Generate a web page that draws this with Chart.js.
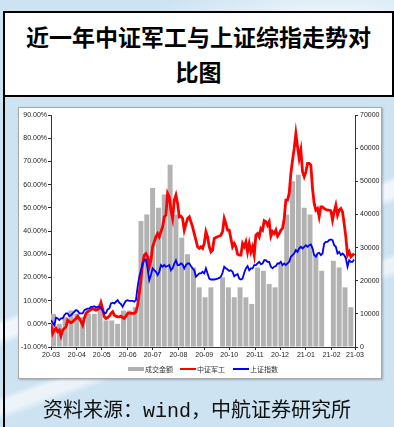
<!DOCTYPE html>
<html>
<head>
<meta charset="utf-8">
<script src="https://cdn.jsdelivr.net/npm/chart.js@4/dist/chart.umd.min.js"></script>
<style>
  html, body { margin: 0; padding: 0; }
  body {
    width: 394px; height: 427px; position: relative; overflow: hidden;
    background:
      radial-gradient(ellipse 260px 60px at 330px 20px, rgba(255,255,255,0.75), rgba(255,255,255,0) 70%),
      linear-gradient(160deg, rgba(255,255,255,0) 0 300px, rgba(255,255,255,0.7) 306px 318px, rgba(255,255,255,0) 326px 372px, rgba(255,255,255,0.6) 378px 388px, rgba(255,255,255,0) 396px),
      #cde3f2;
    font-family: "Noto Sans CJK SC", sans-serif;
  }
  .title {
    position: absolute; left: 3px; top: 11px; width: 391px; height: 86px;
    box-sizing: border-box; border: 2px solid #000; background: #fff;
    text-align: center; font-weight: 700; font-size: 23px; line-height: 35px;
    padding-top: 6px; color: #000;
  }
  .leftline { position: absolute; left: 3px; top: 97px; width: 2px; height: 330px; background: #000; }
  .chartbox {
    position: absolute; left: 18px; top: 107px; width: 364px; height: 272px;
    box-sizing: border-box; border: 1px solid #a8a8a8; background: #fff;
    box-shadow: 1px 1px 2px rgba(0,0,0,0.25);
  }
  .chartbox canvas { position: absolute; left: -1px; top: -1px; }
  .legend { position: absolute; top: 256px; left: 0; width: 364px; height: 10px; font-size: 7px; color: #333; }
  .legend span { position: absolute; top: 0; line-height: 10px; white-space: nowrap; }
  .legend i { position: absolute; display: block; }
  .source {
    position: absolute; left: 0; top: 394px; width: 394px; text-align: center;
    font-family: "Liberation Mono", "Noto Sans CJK SC", monospace; font-size: 20px; color: #111;
  }
</style>
</head>
<body>
<div class="title">近一年中证军工与上证综指走势对<br>比图</div>
<div class="leftline"></div>
<div class="chartbox">
  <canvas id="trendChart" width="364" height="272"></canvas>
  <div class="legend">
    <i style="left:109px;top:3px;width:16px;height:4px;background:#b0b0b0"></i><span style="left:126px">成交金额</span>
    <i style="left:161px;top:4px;width:16px;height:2px;background:#ff0000"></i><span style="left:178px">中证军工</span>
    <i style="left:214px;top:4px;width:16px;height:2px;background:#0000ff"></i><span style="left:231px">上证指数</span>
  </div>
</div>
<div class="source">资料来源：wind，中航证券研究所</div>

<script>
    // Month tick labels (x axis runs 2020-03-01 .. 2021-03-01, in days)
    const monthLabels = ['20-03', '20-04', '20-05', '20-06', '20-07', '20-08', '20-09',
        '20-10', '20-11', '20-12', '21-01', '21-02', '21-03'];

    // Line samples, one every 2 calendar days from 2020-03-01 (cumulative change, %)
    const lineStepDays = 2;
    const junGong = [
        -0.1, -4.2, -2.7, -2.0, -3.4, -2.7, -5.2, -2.7, -2.0, -1.3,
        1.6, 0.9, 0.4, 0.9, 1.6, 2.3, 3.3, 2.3, 0.9, -0.6,
        2.3, 4.5, 5.2, 5.6, 6.2, 6.5, 6.2, 5.9, 6.2, 6.6,
        9.1, 6.6, 3.0, 2.3, 2.7, 3.3, 4.5, 5.2, 3.7, 3.3,
        3.0, 3.0, 3.3, 2.7, 2.3, 3.3, 4.5, 4.7, 4.5, 4.5,
        4.5, 5.2, 8.0, 13.1, 18.8, 26.0, 29.6, 30.3, 28.9, 24.6,
        27.4, 33.2, 35.3, 37.5, 38.9, 37.5, 39.7, 41.8, 46.1, 46.8,
        56.2, 54.7, 49.0, 45.4, 53.3, 55.5, 51.9, 46.1, 46.4, 45.4,
        40.4, 43.0, 45.4, 46.1, 44.0, 41.8, 38.9, 36.1, 33.2, 32.5,
        33.2, 32.5, 34.6, 39.7, 37.5, 33.2, 31.0, 31.8, 36.8, 37.2,
        37.5, 37.8, 38.2, 39.7, 45.4, 43.2, 40.4, 40.4, 36.8, 33.2,
        34.6, 33.2, 30.0, 29.6, 29.6, 34.6, 33.2, 35.3, 31.0, 34.6,
        31.0, 33.2, 29.6, 38.2, 38.9, 37.5, 41.1, 40.4, 44.4, 44.0,
        42.5, 44.0, 37.8, 39.7, 38.9, 40.4, 37.8, 38.9, 40.4, 41.1,
        45.4, 53.3, 53.3, 56.2, 64.8, 70.5, 75.6, 82.0, 76.3, 71.3,
        74.9, 65.5, 63.4, 65.5, 69.1, 69.1, 68.4, 58.3, 51.9, 49.0,
        49.7, 46.1, 50.4, 50.4, 49.7, 49.3, 49.0, 49.0, 48.7, 44.7,
        48.3, 51.1, 46.8, 49.0, 49.7, 48.3, 43.2, 37.5, 29.6, 31.0,
        28.9, 29.6, 30.3
    ];
    const shangZheng = [
        1.6, 0.4, -0.6, 2.7, 2.3, 1.6, 2.3, 2.3, 3.7, 4.5,
        4.5, 3.3, 3.7, 4.5, 5.2, 5.9, 5.6, 4.5, 4.5, 4.5,
        5.9, 6.2, 6.5, 6.6, 7.3, 7.3, 7.6, 7.0, 7.3, 7.3,
        7.0, 5.6, 4.5, 4.7, 6.2, 6.6, 8.8, 9.1, 8.8, 9.5,
        10.2, 9.1, 8.5, 7.3, 8.8, 9.9, 10.2, 9.9, 9.9, 9.9,
        9.5, 10.2, 15.9, 20.3, 23.1, 25.7, 27.4, 27.7, 23.9, 18.8,
        21.0, 23.9, 23.1, 22.4, 21.0, 22.4, 25.3, 24.6, 25.3, 24.6,
        24.9, 25.3, 23.1, 23.9, 26.0, 27.4, 25.3, 25.3, 26.0, 25.6,
        23.9, 25.3, 26.0, 26.0, 24.9, 23.9, 23.1, 20.3, 21.0, 21.7,
        21.7, 22.4, 21.7, 23.9, 21.7, 19.5, 19.1, 19.1, 19.1, 19.3,
        19.5, 19.8, 20.3, 22.0, 24.6, 23.9, 23.4, 22.8, 23.1, 22.4,
        20.5, 21.0, 21.4, 19.5, 19.1, 19.5, 22.0, 23.9, 24.9, 23.1,
        23.9, 23.9, 25.3, 25.3, 26.0, 26.7, 25.7, 26.0, 27.4, 27.4,
        26.7, 26.7, 24.6, 23.9, 24.6, 24.9, 26.0, 26.0, 26.7, 25.3,
        26.0, 25.3, 26.0, 26.7, 28.9, 29.6, 30.3, 31.8, 31.0, 32.5,
        33.2, 32.5, 33.2, 33.9, 33.2, 33.9, 34.2, 32.5, 29.6, 28.9,
        30.3, 30.6, 29.6, 30.3, 34.6, 35.3, 35.3, 36.1, 36.4, 36.1,
        33.9, 33.2, 30.3, 31.0, 29.6, 30.3, 29.6, 28.2, 24.6, 27.4,
        26.7, 26.7, 27.7
    ];

    // Weekly turnover (成交金额), one value per week starting Mon 2020-03-02; null = holiday gap
    const turnover = [
        10000, 7000, 9000, 11000, 10000, 9000, 10000, 10000, 13000, 8000,
        8000, 7000, 11000, 11000, 12000, 38000, 40000, 48000, 42000, 46000,
        55000, 40000, 33000, 28000, 24000, 18000, 15000, 18000, null, 21000,
        18000, 15000, 18000, 15000, 13000, 24000, 23000, 19000, 18000, 25000,
        40000, 50000, 52000, 42000, 40000, 28000, 23000, null, 26000, 24000,
        18000, 12000
    ];

    const dayOffset = (label) => {
        const [yy, mm] = label.split('-').map(Number);
        return (Date.UTC(2000 + yy, mm - 1, 1) - Date.UTC(2020, 2, 1)) / 864e5;
    };
    const monthDays = monthLabels.map(dayOffset);

    const toPoints = (values) => values.map((v, i) => ({ x: i * lineStepDays, y: v }));
    const barPoints = turnover.map((v, k) => ({ x: 3 + 7 * k, y: v }));

    const tickFont = { family: 'Liberation Sans', size: 7 };
    const axisGrid = { display: true, drawOnChartArea: false, drawTicks: true, tickLength: 3, color: '#333', offset: false };

    const ctx = document.getElementById('trendChart').getContext('2d');
    const trendChart = new Chart(ctx, {
        type: 'bar',
        data: {
            datasets: [
                {
                    type: 'line',
                    label: '上证指数',
                    data: toPoints(shangZheng),
                    yAxisID: 'y',
                    borderColor: '#0000ff',
                    borderWidth: 1.8,
                    pointRadius: 0,
                    order: 1
                },
                {
                    type: 'line',
                    label: '中证军工',
                    data: toPoints(junGong),
                    yAxisID: 'y',
                    borderColor: '#ff0000',
                    borderWidth: 2.8,
                    pointRadius: 0,
                    order: 2
                },
                {
                    type: 'bar',
                    label: '成交金额',
                    data: barPoints,
                    yAxisID: 'y1',
                    backgroundColor: '#b2b2b2',
                    categoryPercentage: 1,
                    barPercentage: 0.85,
                    order: 3
                }
            ]
        },
        options: {
            responsive: false,
            animation: false,
            layout: { padding: { top: 8, bottom: 18, left: 0, right: 0 } },
            plugins: { legend: { display: false }, tooltip: { enabled: false } },
            scales: {
                x: {
                    type: 'linear',
                    min: 0,
                    max: 365,
                    offset: false,
                    grid: axisGrid,
                    border: { display: true, color: '#333' },
                    afterBuildTicks: (scale) => { scale.ticks = monthDays.map(d => ({ value: d })); },
                    afterFit: (scale) => { scale.height = 14; },
                    ticks: {
                        autoSkip: false,
                        maxRotation: 0,
                        padding: 1,
                        color: '#222',
                        font: tickFont,
                        callback: (value, index) => monthLabels[index]
                    }
                },
                y: {
                    position: 'left',
                    min: -10,
                    max: 90,
                    grid: axisGrid,
                    border: { display: true, color: '#333' },
                    afterFit: (scale) => { scale.width = 33; },
                    ticks: {
                        stepSize: 10,
                        padding: 1,
                        color: '#222',
                        font: tickFont,
                        callback: (v) => v.toFixed(2) + '%'
                    }
                },
                y1: {
                    position: 'right',
                    min: 0,
                    max: 70000,
                    grid: axisGrid,
                    border: { display: true, color: '#333' },
                    afterFit: (scale) => { scale.width = 27; },
                    ticks: {
                        stepSize: 10000,
                        padding: 2,
                        color: '#222',
                        font: tickFont,
                        callback: (v) => String(v)
                    }
                }
            }
        }
    });
</script>
</body>
</html>
